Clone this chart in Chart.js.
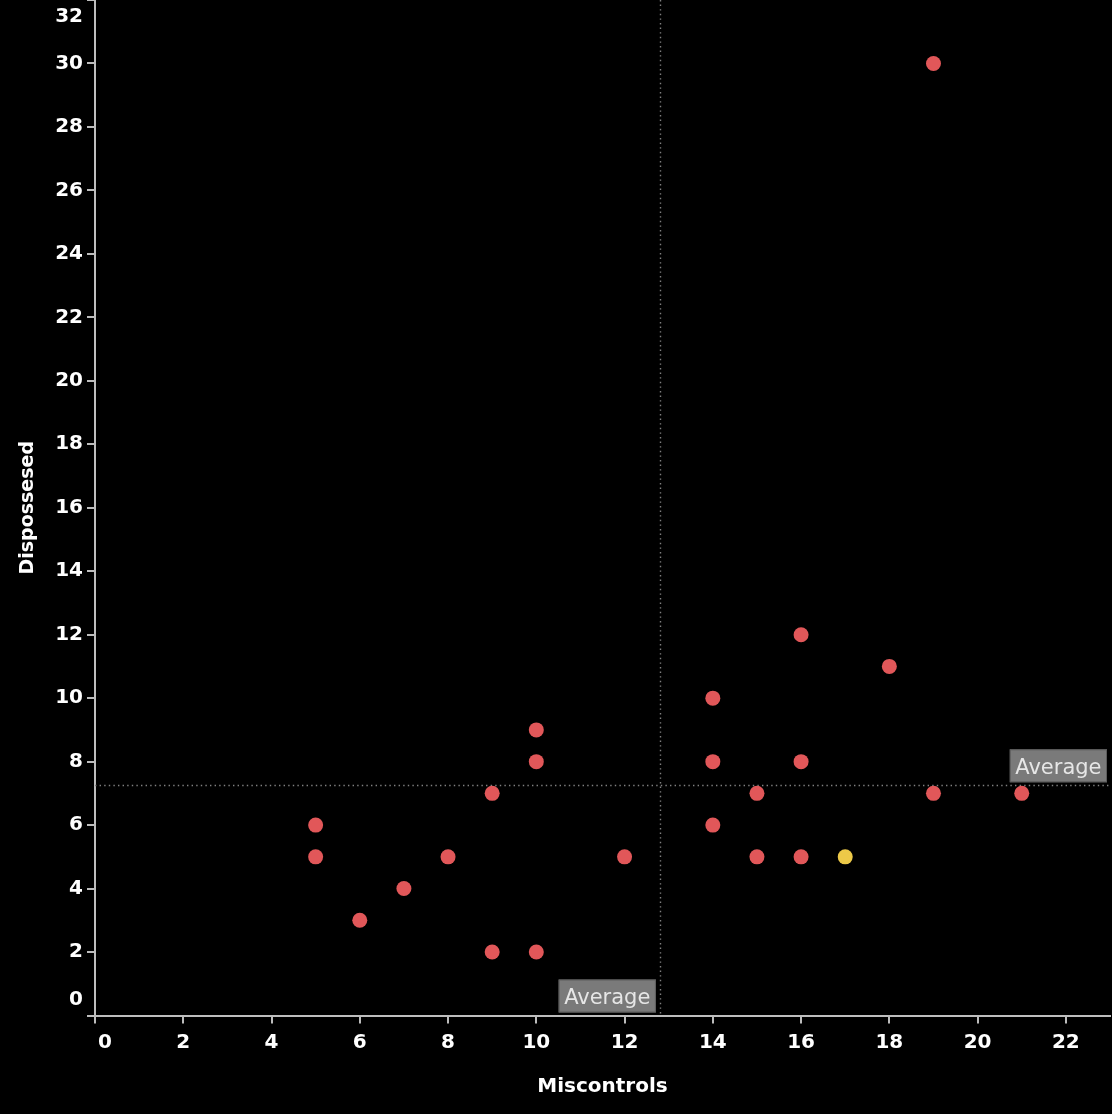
<!DOCTYPE html>
<html>
<head>
<meta charset="utf-8">
<script src="https://cdn.jsdelivr.net/npm/chart.js@4.4.0/dist/chart.umd.min.js"></script>
<style>
  html, body { margin: 0; padding: 0; background: #000; }
  #wrap { width: 1112px; height: 1114px; position: relative; background: #000; }
</style>
</head>
<body>
<div id="wrap"><canvas id="c"></canvas></div>
<script>
// ---- data ----
const miscontrols   = [5, 5, 6, 7, 8, 9, 9, 10, 10, 10, 12, 14, 14, 14, 15, 15, 16, 16, 16, 18, 19, 19, 21];
const dispossessed  = [6, 5, 3, 4, 5, 7, 2,  9,  8,  2,  5, 10,  8,  6,  7,  5, 12,  8,  5, 11, 30,  7,  7];
const highlightMiscontrols = [17];
const highlightDispossessed = [5];
const xTicks = [0, 2, 4, 6, 8, 10, 12, 14, 16, 18, 20, 22];
const yTicks = [0, 2, 4, 6, 8, 10, 12, 14, 16, 18, 20, 22, 24, 26, 28, 30, 32];
const xRange = [0, 23];
const yRange = [0, 32];
const averageMiscontrols = 12.8;
const averageDispossessed = 7.27;
const averageText = 'Average';
const xTitle = 'Miscontrols';
const yTitle = 'Dispossesed';

const toPoints = (xs, ys) => xs.map((v, i) => ({ x: v, y: ys[i] }));

const AXIS = '#bdbdbd';
const TICK_FONT = { family: 'DejaVu Sans', size: 20, weight: 'bold' };

const refPlugin = {
  id: 'refLines',
  beforeDatasetsDraw(chart) {
    const { ctx, chartArea: a, scales: { x, y } } = chart;
    ctx.save();
    ctx.strokeStyle = '#808080';
    ctx.lineWidth = 1.4;
    ctx.setLineDash([1.4, 3.2]);
    const px = Math.round(x.getPixelForValue(averageMiscontrols)) + 0.5;
    ctx.beginPath(); ctx.moveTo(px, a.top); ctx.lineTo(px, a.bottom); ctx.stroke();
    const py = Math.round(y.getPixelForValue(averageDispossessed)) + 0.5;
    ctx.beginPath(); ctx.moveTo(a.left, py); ctx.lineTo(a.right, py); ctx.stroke();
    ctx.restore();
  },
  afterDraw(chart) {
    const { ctx, chartArea: a, scales: { x, y } } = chart;
    const px = x.getPixelForValue(averageMiscontrols);
    const py = y.getPixelForValue(averageDispossessed);
    ctx.save();
    const box = (rightX, bottomY) => {
      ctx.font = '21px "DejaVu Sans"';
      const w = ctx.measureText(averageText).width + 11;
      const h = 33;
      const l = rightX - w, t = bottomY - h;
      ctx.fillStyle = '#7a7a7a';
      ctx.fillRect(l, t, w, h);
      ctx.strokeStyle = '#5c5c5c';
      ctx.lineWidth = 1;
      ctx.strokeRect(l + 0.5, t + 0.5, w - 1, h - 1);
      ctx.fillStyle = '#e6e6e6';
      ctx.textAlign = 'center';
      ctx.textBaseline = 'alphabetic';
      ctx.fillText(averageText, l + w / 2, t + 24.5);
    };
    box(px - 4, a.bottom - 3);
    box(a.right - 3, py - 2.5);

    // edge tick labels, shifted inward as in the reference
    ctx.font = 'bold 20px "DejaVu Sans"';
    ctx.fillStyle = '#ffffff';
    ctx.textBaseline = 'middle';
    ctx.textAlign = 'right';
    ctx.fillText(String(yRange[1]), a.left - 12, a.top + 17);
    ctx.fillText(String(yRange[0]), a.left - 12, a.bottom - 16);
    ctx.textAlign = 'center';
    ctx.fillText(String(xRange[0]), a.left + 10, a.bottom + 27);
    ctx.restore();
  }
};

Chart.defaults.font.family = 'DejaVu Sans';

new Chart(document.getElementById('c'), {
  type: 'scatter',
  plugins: [refPlugin],
  data: {
    datasets: [
      {
        data: toPoints(miscontrols, dispossessed),
        backgroundColor: '#e15759',
        pointBackgroundColor: '#e15759',
        pointRadius: 7.5,
        pointHoverRadius: 7.5,
        pointBorderWidth: 0,
        borderWidth: 0
      },
      {
        data: toPoints(highlightMiscontrols, highlightDispossessed),
        backgroundColor: '#edc948',
        pointBackgroundColor: '#edc948',
        pointRadius: 7.5,
        pointHoverRadius: 7.5,
        pointBorderWidth: 0,
        borderWidth: 0
      }
    ]
  },
  options: {
    responsive: true,
    maintainAspectRatio: false,
    animation: false,
    events: [],
    layout: { autoPadding: false, padding: { top: 0, right: 2, bottom: 0, left: 0 } },
    plugins: { legend: { display: false }, tooltip: { enabled: false } },
    scales: {
      x: {
        type: 'linear',
        position: 'bottom',
        min: xRange[0],
        max: xRange[1],
        afterBuildTicks: s => { s.ticks = xTicks.map(v => ({ value: v })); },
        afterFit: s => { s.height = 98.5; s.paddingLeft = 0; s.paddingRight = 0; },
        border: { display: true, color: AXIS, width: 2 },
        grid: { display: true, drawOnChartArea: false, drawTicks: true, tickLength: 8, color: AXIS, lineWidth: 2 },
        ticks: {
          color: '#ffffff', font: TICK_FONT, padding: 7, maxRotation: 0, autoSkip: false,
          callback: v => (v === xRange[0] ? '' : String(v))
        },
        title: {
          display: true, text: xTitle, color: '#ffffff',
          font: { family: 'DejaVu Sans', size: 20, weight: 'bold' },
          padding: { top: 0, bottom: 15 }
        }
      },
      y: {
        type: 'linear',
        position: 'left',
        min: yRange[0],
        max: yRange[1],
        afterBuildTicks: s => { s.ticks = yTicks.map(v => ({ value: v })); },
        afterFit: s => { s.width = 95; s.paddingTop = 0; s.paddingBottom = 0; },
        border: { display: true, color: AXIS, width: 2 },
        grid: { display: true, drawOnChartArea: false, drawTicks: true, tickLength: 8, color: AXIS, lineWidth: 2 },
        ticks: {
          color: '#ffffff', font: TICK_FONT, padding: 4, autoSkip: false,
          callback: v => ((v === yRange[0] || v === yRange[1]) ? '' : String(v))
        },
        title: {
          display: true, text: yTitle, color: '#ffffff',
          font: { family: 'DejaVu Sans', size: 19, weight: 'bold' },
          padding: { top: 16.6, bottom: 0 }
        }
      }
    }
  }
});
</script>
</body>
</html>
